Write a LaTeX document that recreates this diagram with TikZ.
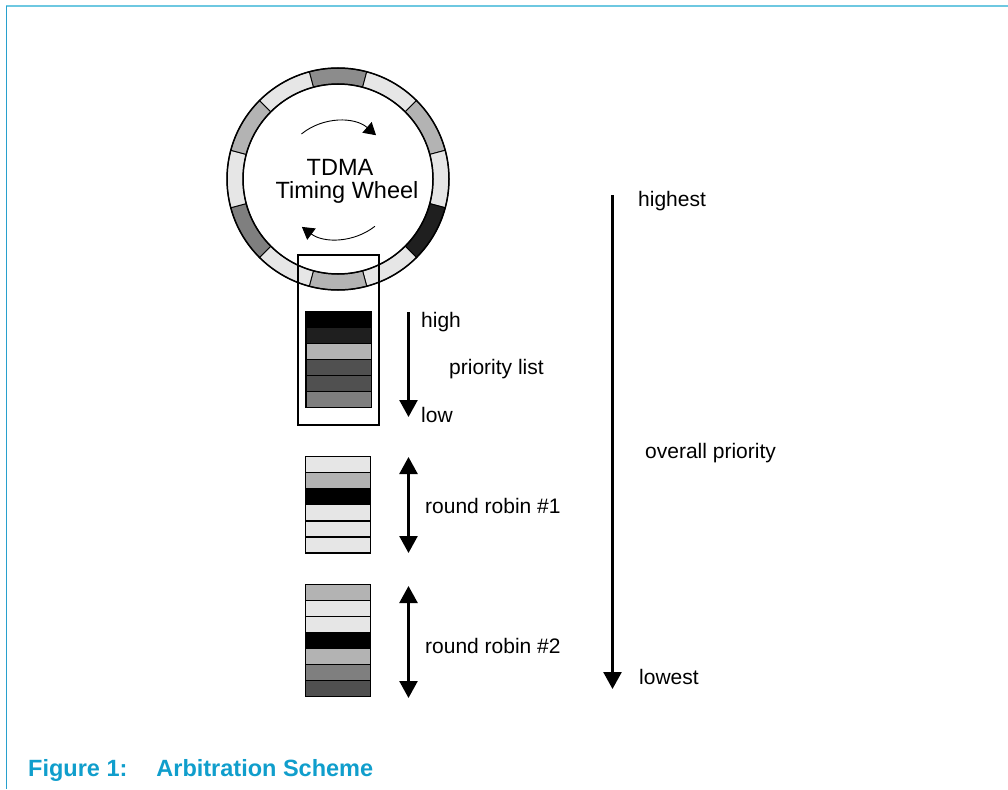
\documentclass[tikz,border=0pt]{standalone}
\usepackage{fontspec}
\setmainfont{Liberation Sans}
\usetikzlibrary{arrows.meta}
\definecolor{lt}{HTML}{E6E6E6}
\definecolor{md}{HTML}{B3B3B3}
\definecolor{tp}{HTML}{8C8C8C}
\definecolor{dg}{HTML}{7F7F7F}
\definecolor{vd}{HTML}{505050}
\definecolor{bk}{HTML}{1F1F1F}
\definecolor{capblue}{RGB}{16,158,204}
\definecolor{rulec}{RGB}{110,200,225}
\definecolor{leftc}{RGB}{40,160,205}
\tikzset{
  rowbox/.style={draw=black, line width=1.3pt},
  seg/.style={draw=black, line width=0.9pt},
  bigarrow/.style={line width=2.5pt, -{Triangle[width=18pt,length=17pt]}},
  dblarrow/.style={line width=2.5pt, {Triangle[width=18pt,length=17pt]}-{Triangle[width=18pt,length=17pt]}},
  wheelarrow/.style={line width=0.9pt, -{Triangle[width=14pt,length=12pt]}},
  lbl/.style={font=\fontsize{21}{25}\selectfont, anchor=base west, inner sep=0pt},
  wlbl/.style={font=\fontsize{23.5}{28}\selectfont, anchor=base, inner sep=0pt},
}
\begin{document}
\begin{tikzpicture}[x=1pt,y=-1pt]
\useasboundingbox (0,0) rectangle (1008,789);
% page rules
\draw[rulec, line width=2pt] (6,6.5) -- (1008,6.5);
\draw[leftc, line width=1pt] (6.5,6) -- (6.5,789);
% wheel
\coordinate (W) at (338,179);
\begin{scope}[shift={(W)}]
  \foreach \c/\col in {90/tp,60/lt,30/md,0/lt,-30/bk,-60/lt,-90/md,-120/lt,-150/dg,180/lt,150/md,120/lt}{
    \pgfmathsetmacro{\a}{-\c}
    \pgfmathsetmacro{\s}{\a-15}
    \pgfmathsetmacro{\e}{\a+15}
    \draw[seg, fill=\col] (\s:111) arc[start angle=\s, end angle=\e, radius=111]
      -- (\e:95) arc[start angle=\e, end angle=\s, radius=95] -- cycle;
  }
  \draw[line width=1.5pt] (0,0) circle[radius=111];
  \draw[line width=1.5pt] (0,0) circle[radius=95];
  \draw[wheelarrow] (-129:58) arc[start angle=-129, end angle=-49, radius=58];
  \draw[wheelarrow] (52:60) arc[start angle=52, end angle=127, radius=60];
\end{scope}
\node[wlbl] (tdma) at (340,175) {TDMA};
\node[wlbl] (tw) at (347,198) {Timing Wheel};
% priority list box
\node[draw, line width=1.3pt, minimum width=81pt, minimum height=170pt, inner sep=0pt] (plist) at (338.5,340) {};
% stack 1
\foreach \i/\col in {0/black,1/bk,2/md,3/vd,4/vd,5/dg}{
  \draw[rowbox, fill=\col] (306,311.5+16*\i) rectangle ++(65.5,16);
}
% stack 2
\foreach \i/\col in {0/lt,1/md,2/black,3/lt,4/lt,5/lt}{
  \draw[rowbox, fill=\col] (305.5,456.5+16.1*\i) rectangle ++(65,16.1);
}
% stack 3
\foreach \i/\col in {0/md,1/lt,2/lt,3/black,4/md,5/dg,6/vd}{
  \draw[rowbox, fill=\col] (305.5,584.5+16*\i) rectangle ++(65,16);
}
% arrows
\coordinate (pT) at (408.5,312);
\coordinate (pB) at (408.5,417);
\draw[bigarrow] (pT) -- (pB);
\coordinate (r1T) at (408.5,457);
\coordinate (r1B) at (408.5,553);
\draw[dblarrow] (r1T) -- (r1B);
\coordinate (r2T) at (408.5,586);
\coordinate (r2B) at (408.5,698);
\draw[dblarrow] (r2T) -- (r2B);
\coordinate (oT) at (612.5,195);
\coordinate (oB) at (612.5,689);
\draw[bigarrow] (oT) -- (oB);
% labels
\node[lbl] (high) at (421,327) {high};
\node[lbl] (plbl) at (449,374) {priority list};
\node[lbl] (low) at (421,422) {low};
\node[lbl] (rr1) at (425,513) {round robin \#1};
\node[lbl] (rr2) at (425,653) {round robin \#2};
\node[lbl] (highest) at (638,206) {highest};
\node[lbl] (overall) at (645,458) {overall priority};
\node[lbl] (lowest) at (639,684) {lowest};
% caption
\node[anchor=base west, inner sep=0pt, text=capblue, font=\bfseries\fontsize{23.5}{28}\selectfont] (cap) at (28,776.5) {Figure 1:\hspace{29pt}Arbitration Scheme};
\end{tikzpicture}
\end{document}
